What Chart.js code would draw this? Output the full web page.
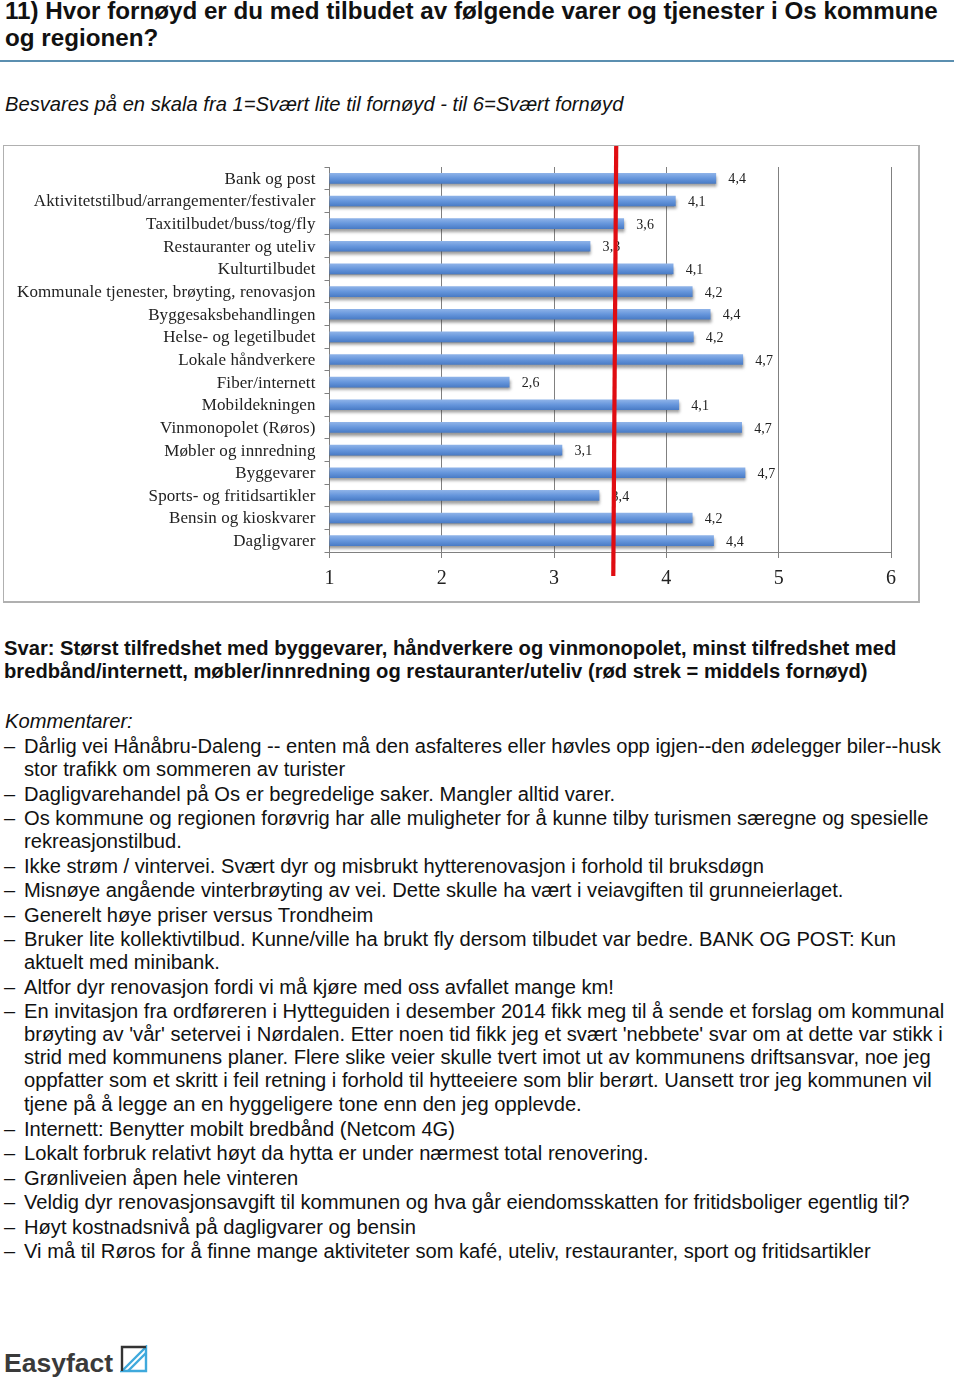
<!DOCTYPE html>
<html><head><meta charset="utf-8">
<script src="https://cdn.jsdelivr.net/npm/chart.js@4"></script>
<style>
html,body{margin:0;padding:0;background:#fff;}
body{position:relative;width:960px;height:1378px;overflow:hidden;font-family:"Liberation Sans",Arial,sans-serif;color:#111;}
.t{position:absolute;white-space:nowrap;line-height:24px;}
#box{position:absolute;left:3px;top:145px;width:914px;height:455px;border:2px solid #b0b0b0;border-width:1px 2px 2px 1px;}
#cv{position:absolute;left:4px;top:146px;}
#rule{position:absolute;left:0;top:60px;width:954px;height:2px;background:#5b8fb0;}
</style></head><body>
<div id="box"></div>
<canvas id="cv" width="915" height="456" style="width:915px;height:456px"></canvas>
<div id="rule"></div>
<div id="text"></div>
<svg style="position:absolute;left:120px;top:1345px" width="28" height="28" viewBox="0 0 28 28">
<path d="M2 26 L26 2 L26 26 Z" fill="none" stroke="#3fa9dc" stroke-width="2.4"/>
<path d="M8 26 L26 8" stroke="#3fa9dc" stroke-width="2.4"/>
<path d="M2 26 L2 2 L26 2" fill="none" stroke="#333" stroke-width="2.4"/>
</svg>
<script>
const categories=["Bank og post","Aktivitetstilbud/arrangementer/festivaler","Taxitilbudet/buss/tog/fly","Restauranter og uteliv","Kulturtilbudet","Kommunale tjenester, brøyting, renovasjon","Byggesaksbehandlingen","Helse- og legetilbudet","Lokale håndverkere","Fiber/internett","Mobildekningen","Vinmonopolet (Røros)","Møbler og innredning","Byggevarer","Sports- og fritidsartikler","Bensin og kioskvarer","Dagligvarer"];
const values=[4.44,4.08,3.62,3.32,4.06,4.23,4.39,4.24,4.68,2.6,4.11,4.67,3.07,4.7,3.4,4.23,4.42];
const valueLabels=["4,4","4,1","3,6","3,3","4,1","4,2","4,4","4,2","4,7","2,6","4,1","4,7","3,1","4,7","3,4","4,2","4,4"];
const xTicks=[1,2,3,4,5,6];
const meanLine=[3.553,3.527];

const titleLines=[["11) Hvor fornøyd er du med tilbudet av følgende varer og tjenester i Os kommune",11],["og regionen?",38]];
const intro="Besvares på en skala fra 1=Svært lite til fornøyd - til 6=Svært fornøyd";
const answerLines=[["Svar: Størst tilfredshet med byggevarer, håndverkere og vinmonopolet, minst tilfredshet med",648],["bredbånd/internett, møbler/innredning og restauranter/uteliv (rød strek = middels fornøyd)",671]];
const commentLines=[
[1,"Dårlig vei Hånåbru-Daleng -- enten må den asfalteres eller høvles opp igjen--den ødelegger biler--husk",746],
[0,"stor trafikk om sommeren av turister",769],
[1,"Dagligvarehandel på Os er begredelige saker. Mangler alltid varer.",794],
[1,"Os kommune og regionen forøvrig har alle muligheter for å kunne tilby turismen særegne og spesielle",818],
[0,"rekreasjonstilbud.",841],
[1,"Ikke strøm / vintervei. Svært dyr og misbrukt hytterenovasjon i forhold til bruksdøgn",866],
[1,"Misnøye angående vinterbrøyting av vei. Dette skulle ha vært i veiavgiften til grunneierlaget.",890],
[1,"Generelt høye priser versus Trondheim",915],
[1,"Bruker lite kollektivtilbud. Kunne/ville ha brukt fly dersom tilbudet var bedre. BANK OG POST: Kun",939],
[0,"aktuelt med minibank.",962],
[1,"Altfor dyr renovasjon fordi vi må kjøre med oss avfallet mange km!",987],
[1,"En invitasjon fra ordføreren i Hytteguiden i desember 2014 fikk meg til å sende et forslag om kommunal",1011],
[0,"brøyting av 'vår' setervei i Nørdalen. Etter noen tid fikk jeg et svært 'nebbete' svar om at dette var stikk i",1034],
[0,"strid med kommunens planer. Flere slike veier skulle tvert imot ut av kommunens driftsansvar, noe jeg",1057],
[0,"oppfatter som et skritt i feil retning i forhold til hytteeiere som blir berørt. Uansett tror jeg kommunen vil",1080],
[0,"tjene på å legge an en hyggeligere tone enn den jeg opplevde.",1104],
[1,"Internett: Benytter mobilt bredbånd (Netcom 4G)",1129],
[1,"Lokalt forbruk relativt høyt da hytta er under nærmest total renovering.",1153],
[1,"Grønliveien åpen hele vinteren",1178],
[1,"Veldig dyr renovasjonsavgift til kommunen og hva går eiendomsskatten for fritidsboliger egentlig til?",1202],
[1,"Høyt kostnadsnivå på dagligvarer og bensin",1227],
[1,"Vi må til Røros for å finne mange aktiviteter som kafé, uteliv, restauranter, sport og fritidsartikler",1251]];

const host=document.getElementById('text');
function add(s,x,y,css){const d=document.createElement('div');d.className='t';d.textContent=s;d.style.cssText=`left:${x}px;top:${y-12}px;${css}`;host.appendChild(d);}
titleLines.forEach(l=>add(l[0],5,l[1],'font-weight:bold;font-size:24.2px;'));
add(intro,5,104,'font-style:italic;font-size:20.16px;');
answerLines.forEach(l=>add(l[0],4,l[1],'font-weight:bold;font-size:20.18px;'));
add("Kommentarer:",5,721,'font-style:italic;font-size:20.16px;');
commentLines.forEach(l=>{ if(l[0]) add("–",4,l[2],'font-size:20px;'); add(l[1],24,l[2],'font-size:20.15px;');});
add("Easyfact",4,1363,'font-weight:bold;font-size:26.5px;color:#3a3a3a;');

const serif='"Liberation Serif",serif';
const decor={
 id:'decor',
 beforeDraw(c){c.ctx.letterSpacing='0.1px';},
 beforeDatasetsDraw(c){const x=c.ctx;x.save();x.shadowColor='rgba(60,60,60,.55)';x.shadowBlur=3;x.shadowOffsetX=1;x.shadowOffsetY=3;},
 afterDatasetsDraw(c){
  const x=c.ctx;x.restore();
  const m=c.getDatasetMeta(0);
  x.save();x.font='14px '+serif;x.fillStyle='#222';x.textBaseline='middle';x.textAlign='left';
  m.data.forEach((b,i)=>x.fillText(valueLabels[i],b.x+12.5,b.y+1.5));
  x.restore();
 },
 afterDraw(c){
  const x=c.ctx,sx=c.scales.x;
  x.save();x.strokeStyle='#e00d12';x.lineWidth=4.2;x.beginPath();
  x.moveTo(sx.getPixelForValue(meanLine[0]),0);
  x.lineTo(sx.getPixelForValue(meanLine[1]),c.chartArea.bottom+24);
  x.stroke();x.restore();
 }
};
new Chart(document.getElementById('cv'),{
 type:'bar',
 data:{labels:categories,datasets:[{data:values,barThickness:10,
  backgroundColor(ctx){
   const ch=ctx.chart;
   if(!ch.chartArea) return '#5b8fd8';
   const y=ch.scales.y.getPixelForValue(ctx.dataIndex);
   const g=ch.ctx.createLinearGradient(0,y-5,0,y+5);
   g.addColorStop(0,'#8db2e8');g.addColorStop(.5,'#6696dc');g.addColorStop(1,'#4a7cc6');
   return g;
  }}]},
 options:{
  indexAxis:'y',responsive:false,animation:false,
  layout:{padding:{left:0,right:28,top:21,bottom:0}},
  plugins:{legend:{display:false},tooltip:{enabled:false}},
  scales:{
   x:{type:'linear',min:1,max:6,position:'bottom',
    afterBuildTicks(s){s.ticks=xTicks.map(v=>({value:v}));},
    afterFit(s){s.height=50;},
    grid:{color:'#808080',lineWidth:1,drawTicks:true,tickLength:6,tickColor:'#808080'},
    border:{color:'#808080'},
    ticks:{color:'#222',font:{family:serif,size:20},padding:9,maxRotation:0}},
   y:{type:'category',
    afterFit(s){s.width=325.5;},
    grid:{display:true,drawOnChartArea:false,drawTicks:true,tickLength:5,tickColor:'#808080',offset:true},
    border:{color:'#808080'},
    ticks:{color:'#222',autoSkip:false,font:{family:serif,size:17},padding:9,labelOffset:1}}
  }
 },
 plugins:[decor]
});
</script>
</body></html>
